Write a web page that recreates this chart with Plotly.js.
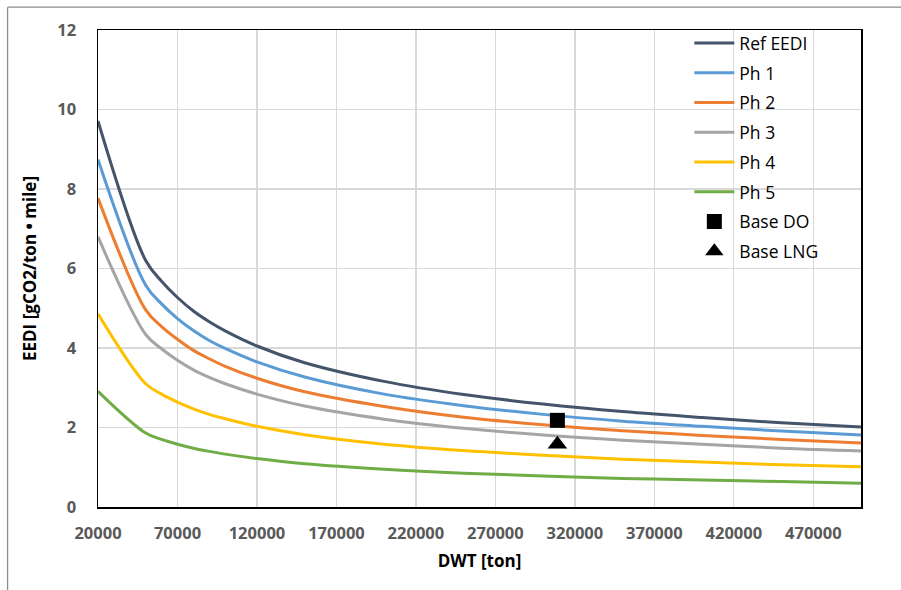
<!DOCTYPE html>
<html>
<head>
<meta charset="utf-8">
<script src="https://cdn.plot.ly/plotly-3.0.1.min.js"></script>
<style>html,body{margin:0;padding:0;background:#fff;}#chart{width:901px;height:590px;}</style>
</head>
<body>
<div id="chart"></div>
<script>
const dwt = [20000, 50000, 60000, 70000, 80000, 90000, 100000, 120000, 150000, 200000, 250000, 300000, 350000, 400000, 450000, 500000];
const refEEDI = [9.71, 6.20, 5.68, 5.27, 4.93, 4.66, 4.43, 4.05, 3.63, 3.16, 2.83, 2.59, 2.40, 2.25, 2.12, 2.01];
const ph1 = [8.74, 5.58, 5.11, 4.74, 4.44, 4.19, 3.99, 3.65, 3.27, 2.84, 2.55, 2.33, 2.16, 2.03, 1.91, 1.81];
const ph2 = [7.77, 4.96, 4.54, 4.22, 3.94, 3.73, 3.54, 3.24, 2.90, 2.53, 2.26, 2.07, 1.92, 1.80, 1.70, 1.61];
const ph3 = [6.80, 4.34, 3.98, 3.69, 3.45, 3.26, 3.10, 2.84, 2.54, 2.21, 1.98, 1.81, 1.68, 1.58, 1.48, 1.41];
const ph4 = [4.86, 3.10, 2.84, 2.64, 2.47, 2.33, 2.22, 2.03, 1.82, 1.58, 1.42, 1.30, 1.20, 1.13, 1.06, 1.01];
const ph5 = [2.91, 1.86, 1.70, 1.58, 1.48, 1.40, 1.33, 1.22, 1.09, 0.95, 0.85, 0.78, 0.72, 0.68, 0.64, 0.60];
const baseDO = {x: [309000], y: [2.18]};
const baseLNG = {x: [309000], y: [1.58]};
const xTicks = [20000, 70000, 120000, 170000, 220000, 270000, 320000, 370000, 420000, 470000];
const yTicks = [0, 2, 4, 6, 8, 10, 12];

const FONT = '"Open Sans", Lato, sans-serif';

function lineTrace(name, y, color) {
  return {x: dwt, y: y, name: name, legendgroup: name, type: 'scatter', mode: 'lines',
    line: {color: color, width: 3, shape: 'spline', smoothing: 1.0}};
}

const data = [
  lineTrace('Ref EEDI', refEEDI, '#44546a'),
  lineTrace('Ph 1', ph1, '#5b9bd5'),
  lineTrace('Ph 2', ph2, '#ed7d31'),
  lineTrace('Ph 3', ph3, '#a5a5a5'),
  lineTrace('Ph 4', ph4, '#ffc000'),
  lineTrace('Ph 5', ph5, '#70ad47'),
  {x: baseDO.x, y: baseDO.y, name: 'Base DO', legendgroup: 'Base DO', type: 'scatter', mode: 'markers',
    marker: {symbol: 'square', size: 15, color: '#000'}},
  {x: baseLNG.x, y: baseLNG.y, name: 'Base LNG', legendgroup: 'Base LNG', type: 'scatter', mode: 'markers',
    marker: {symbol: 'triangle-up', size: 17, color: '#000'}}
];

const layout = {
  width: 901, height: 590,
  margin: {l: 97.5, r: 40, t: 29.5, b: 83.3},
  paper_bgcolor: '#fff', plot_bgcolor: '#fff',
  font: {family: FONT, color: '#000'},
  showlegend: true,
  legend: {x: 0.775, y: 1.01, xanchor: 'left', yanchor: 'top', bgcolor: 'rgba(0,0,0,0)',
    font: {family: FONT, size: 17.5, color: '#000'}, itemwidth: 40,
    traceorder: 'grouped', tracegroupgap: 4},
  xaxis: {
    range: [20000, 500000], tickvals: xTicks, ticktext: xTicks.map(String),
    showgrid: true, gridcolor: '#d9d9d9', gridwidth: 1.3,
    showline: true, linecolor: '#000', linewidth: 1.5, mirror: true,
    zeroline: false, ticks: '', ticklabelstandoff: 11,
    tickfont: {family: FONT, size: 16.5, color: '#595959', weight: 'bold'},
    title: {text: '<b>DWT [ton]</b>', font: {family: FONT, size: 17, color: '#000'}, standoff: 12}
  },
  yaxis: {
    range: [0, 12], tickvals: yTicks,
    showgrid: true, gridcolor: '#d9d9d9', gridwidth: 1.3,
    showline: true, linecolor: '#000', linewidth: 1.5, mirror: true,
    zeroline: false, ticks: '', ticklabelstandoff: 17,
    tickfont: {family: FONT, size: 16.5, color: '#595959', weight: 'bold'},
    title: {text: '<b>EEDI [gCO2/ton • mile]</b>', font: {family: FONT, size: 17, color: '#000'}, standoff: 16}
  },
  shapes: [
    {type: 'line', xref: 'paper', yref: 'paper', x0: -0.1185, x1: 1.2, y0: 1.0478, y1: 1.0478,
      line: {color: '#8c8c8c', width: 1.3}},
    {type: 'line', xref: 'paper', yref: 'paper', x0: -0.1185, x1: -0.1185, y0: -0.2, y1: 1.0478,
      line: {color: '#8c8c8c', width: 1.3}}
  ]
};

Plotly.newPlot('chart', data, layout, {displayModeBar: false, staticPlot: true});
</script>
</body>
</html>
